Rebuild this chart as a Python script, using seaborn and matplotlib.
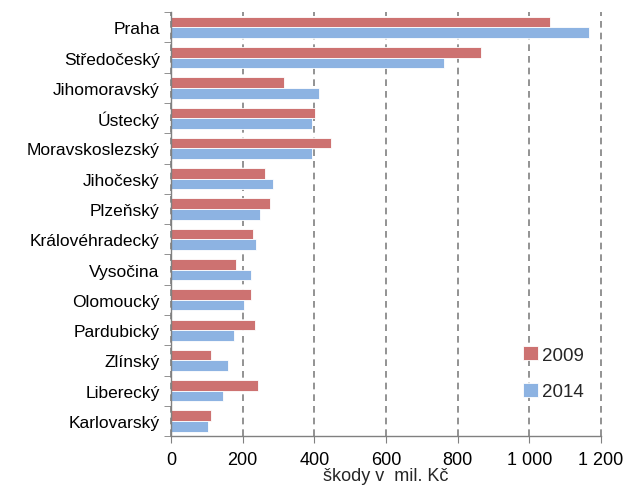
import matplotlib
matplotlib.use("Agg")
import matplotlib.pyplot as plt
import seaborn as sns
import pandas as pd
import numpy as np
from matplotlib.ticker import FixedLocator, FuncFormatter

regions = ["Praha", "Středočeský", "Jihomoravský", "Ústecký", "Moravskoslezský",
           "Jihočeský", "Plzeňský", "Královéhradecký", "Vysočina", "Olomoucký",
           "Pardubický", "Zlínský", "Liberecký", "Karlovarský"]
values_2009 = [1057, 866, 316, 402, 447, 263, 277, 228, 181, 223, 234, 112, 242, 112]
values_2014 = [1168, 761, 412, 394, 394, 286, 249, 237, 223, 203, 175, 160, 146, 103]
years = ["2009", "2014"]
x_ticks = [0, 200, 400, 600, 800, 1000, 1200]
x_label = "škody v  mil. Kč"

df = pd.DataFrame({
    "kraj": regions * 2,
    "hodnota": values_2009 + values_2014,
    "rok": [years[0]] * len(regions) + [years[1]] * len(regions),
})

sns.set_style("white")
plt.rcParams["font.family"] = ["Liberation Sans", "DejaVu Sans"]

fig = plt.figure(figsize=(6.26, 4.89), dpi=100)
ax = fig.add_axes([0.273, 0.106, 0.687, 0.867])

palette = {"2009": "#CD7271", "2014": "#8DB3E2"}
sns.barplot(data=df, y="kraj", x="hodnota", hue="rok", order=regions,
            hue_order=years, palette=palette, orient="h", width=0.7,
            edgecolor="white", linewidth=0.6, saturation=1, ax=ax)

ax.set_xlim(0, 1200)
ax.set_ylim(len(regions) - 0.5, -0.5)
ax.xaxis.set_major_locator(FixedLocator(x_ticks))
ax.xaxis.set_major_formatter(FuncFormatter(lambda v, p: f"{int(v):,}".replace(",", " ")))
ax.grid(axis="x", color="#808080", linestyle=(0, (4, 3)), linewidth=1.2)
ax.set_axisbelow(True)
for gl in ax.get_xgridlines():
    gl.set_clip_on(False)

for s in ["top", "right"]:
    ax.spines[s].set_visible(False)
for s in ["left", "bottom"]:
    ax.spines[s].set_color("#808080")
    ax.spines[s].set_linewidth(1.0)

ax.yaxis.set_minor_locator(FixedLocator(np.arange(-0.5, len(regions), 1.0)))
ax.tick_params(axis="y", which="major", length=0, labelsize=12.5, pad=8, colors="black")
ax.tick_params(axis="y", which="minor", length=5, color="#808080", direction="out", left=True)
ax.tick_params(axis="x", which="major", length=5, color="#808080", direction="out",
               labelsize=13, pad=6, bottom=True, labelcolor="black")

ax.set_ylabel("")
ax.set_xlabel(x_label, fontsize=13, labelpad=-1)

leg = ax.legend(loc="lower right", bbox_to_anchor=(1.0, 0.045), frameon=False,
                fontsize=13.5, handlelength=0.8, handleheight=0.8, handletextpad=0.2,
                labelspacing=1.0)

fig.savefig("out.png", dpi=100)
